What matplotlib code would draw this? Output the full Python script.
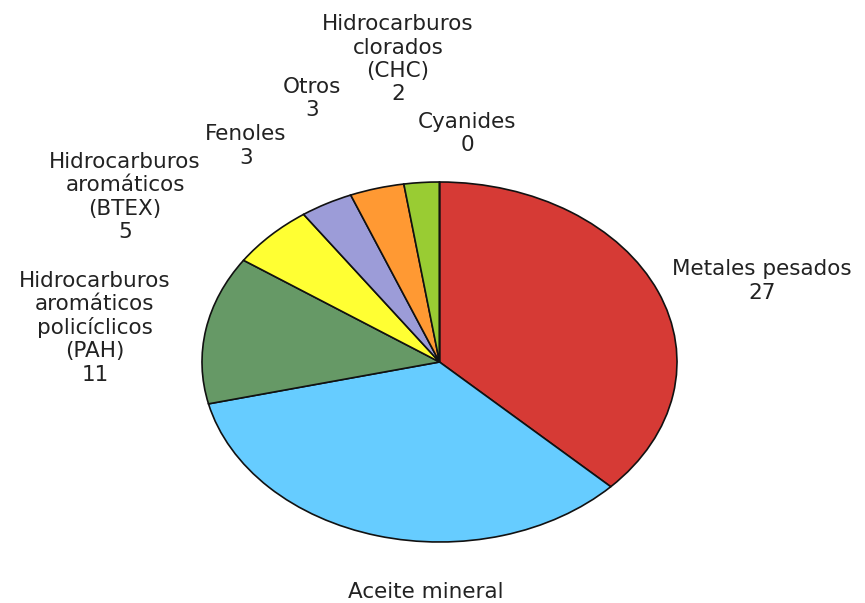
import matplotlib
matplotlib.use("Agg")
import matplotlib.pyplot as plt

# ---- data -------------------------------------------------------------
categories = [
    "Metales pesados",
    "Aceite mineral",
    "Hidrocarburos\naromáticos\npolicíclicos\n(PAH)",
    "Hidrocarburos\naromáticos\n(BTEX)",
    "Fenoles",
    "Otros",
    "Hidrocarburos\nclorados\n(CHC)",
    "Cyanides",
]
# numbers printed in the labels (Aceite mineral's number is cut off in the picture)
label_values = ["27", None, "11", "5", "3", "3", "2", "0"]
# slice shares (%) as drawn in the picture
shares = [37.2, 34.1, 13.3, 5.75, 3.6, 3.7, 2.4, 0.0]
colors = ["#D63A35", "#66CCFF", "#669966", "#FFFF33",
          "#9C9CD8", "#FF9933", "#99CC33", "#339933"]

# ---- layout: label anchor (centre x, first baseline y) in pie-radius units
label_pos = [
    (1.358, 0.483),
    (-0.057, -1.311),
    (-1.451, 0.417),
    (-1.324, 1.078),
    (-0.815, 1.233),
    (-0.537, 1.497),
    (-0.175, 1.844),
    (0.116, 1.300),
]
line_pitch_pt = 16.9   # distance between label lines

W, H = 865, 603
fig = plt.figure(figsize=(W / 100, H / 100), dpi=100)
ax = fig.add_axes([0, 0, 1, 1])

cx, cy = 439.5, 362.0   # pie centre (px, from top)
rx, ry = 237.5, 180.0   # pie radii (px)

ax.pie(shares, colors=colors, startangle=90, counterclock=False,
       radius=1.0, center=(0, 0),
       wedgeprops=dict(edgecolor="#111111", linewidth=1.2))

ax.set_aspect("auto")
ax.set_xlim(-cx / rx, (W - cx) / rx)
ax.set_ylim(-(H - cy) / ry, cy / ry)
ax.axis("off")

for name, val, (x, y) in zip(categories, label_values, label_pos):
    lines = name.split("\n") + ([] if val is None else [val])
    for i, line in enumerate(lines):
        ax.annotate(line, xy=(x, y), xytext=(0, -i * line_pitch_pt),
                    textcoords="offset points", ha="center", va="baseline",
                    fontsize=15.5, color="#222222", family="DejaVu Sans",
                    annotation_clip=False)

fig.savefig("out.png", dpi=100, facecolor="white")
